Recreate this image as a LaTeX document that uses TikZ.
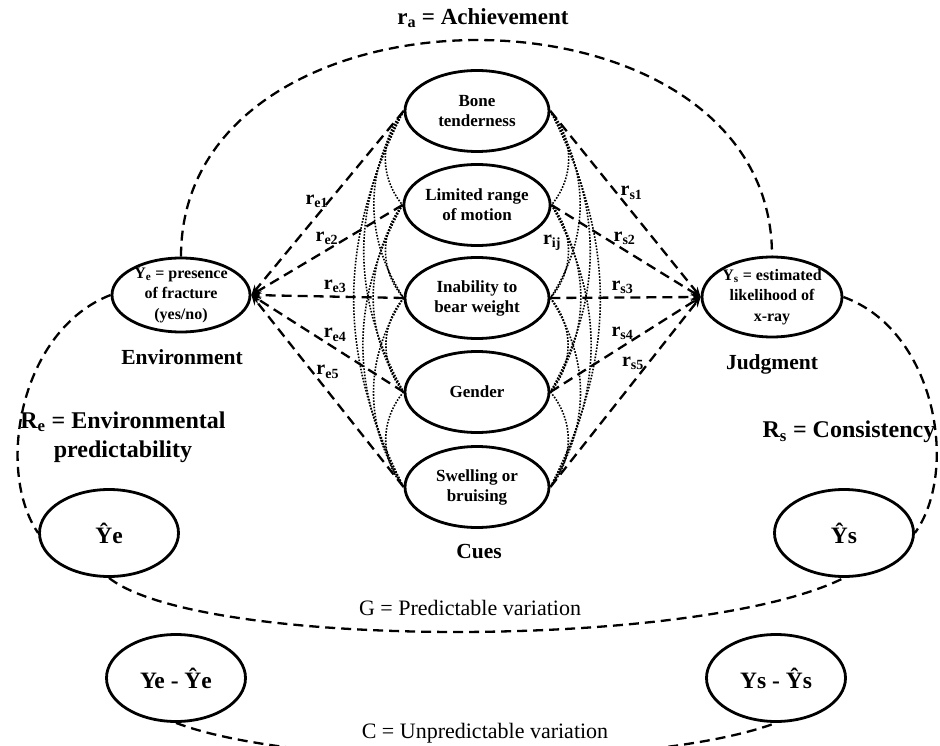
\documentclass[tikz,border=0pt]{standalone}
\usepackage{fontspec}
\setmainfont{Liberation Serif}
\usetikzlibrary{positioning,arrows.meta,shapes.geometric}

\begin{document}
\begin{tikzpicture}[x=1pt, y=-1pt,
  >={Stealth[length=10pt, width=8pt]},
  oval/.style={ellipse, draw, line width=2.8pt, inner sep=0pt, align=center,
    font=\bfseries\fontsize{17}{20}\selectfont},
  cue/.style={oval, minimum width=144pt, minimum height=81pt},
  resid/.style={oval, minimum width=139pt, minimum height=87pt,
    font=\bfseries\fontsize{23.5}{26}\selectfont},
  link/.style={line width=2.3pt, dash pattern=on 10pt off 6pt},
  corr/.style={line width=1.6pt, dash pattern=on 1.6pt off 1.5pt},
  lab/.style={font=\bfseries\fontsize{21.5}{24}\selectfont, inner sep=1pt},
  rlab/.style={font=\bfseries\fontsize{20}{22}\selectfont, inner sep=1pt},
  big/.style={font=\bfseries\fontsize{24}{29}\selectfont, inner sep=0pt, align=center},
  varlab/.style={font=\fontsize{22}{24}\selectfont, inner sep=1pt}]
\useasboundingbox (0,0) rectangle (940,746);
% title
\node[lab, font=\bfseries\fontsize{23}{25}\selectfont] (ra) at (483,18) {r\textsubscript{a} = Achievement};
% cues
\node[cue] (c1) at (477,111) {Bone\\tenderness};
\node[cue] (c2) at (477,205) {Limited range\\of motion};
\node[cue] (c3) at (477,298) {Inability to\\bear weight};
\node[cue] (c4) at (477,392) {Gender};
\node[cue] (c5) at (477,487) {Swelling or\\bruising};
\node[lab] (cues) at (479,552) {Cues};
% environment and judgment
\node[oval, minimum width=138pt, minimum height=74pt, inner ysep=-5pt,
  font=\bfseries\fontsize{16}{20.5}\selectfont] (ye) at (181,295)
  {Y\textsubscript{e} = presence\\of fracture\\(yes/no)};
\node[oval, minimum width=140pt, minimum height=80pt, inner ysep=-5pt, inner xsep=-2pt,
  font=\bfseries\fontsize{16}{20.5}\selectfont] (ys) at (772,297)
  {Y\textsubscript{s} = estimated\\likelihood of\\x-ray};
\node[lab] (env) at (182,357) {Environment};
\node[lab] (jud) at (772,364) {Judgment};
% predicted and residual parts
\node[resid] (yhe) at (109,533) {Ŷe};
\node[resid] (yhs) at (844,533) {Ŷs};
\node[resid] (ehe) at (176,678) {Ye - Ŷe};
\node[resid] (ehs) at (776,678) {Ys - Ŷs};
\node[big] (re) at (123,437) {R\textsubscript{e} = Environmental\\predictability};
\node[big] (rs) at (849,432) {R\textsubscript{s} = Consistency};
% cue intercorrelations
\foreach \a/\b/\k in {1/2/40, 2/3/40, 3/4/40, 4/5/40, 1/3/33, 2/4/33, 3/5/33,
                      1/4/29, 2/5/29, 1/5/27}{
  \draw[corr] (c\a.west) to[bend right=\k] (c\b.west);
  \draw[corr] (c\a.east) to[bend left=\k] (c\b.east);
}
\node[rlab] (rij) at (552,243) {r\textsubscript{ij}};
% ecological validities
\draw[link, ->] (c1.west) -- node[rlab, pos=0.57, above=6pt] (re1) {r\textsubscript{e1}} (ye.east);
\draw[link, ->] (c2.west) -- node[rlab, pos=0.5, above=3pt] (re2) {r\textsubscript{e2}} (ye.east);
\draw[link, ->] (c3.west) -- node[rlab, pos=0.45, above=2pt] (re3) {r\textsubscript{e3}} (ye.east);
\draw[link, ->] (c4.west) -- node[rlab, pos=0.45, above=5pt] (re4) {r\textsubscript{e4}} (ye.east);
\draw[link, ->] (c5.west) -- node[rlab, pos=0.6, right=2pt] (re5) {r\textsubscript{e5}} (ye.east);
% cue utilizations
\draw[link, ->] (c1.east) -- node[rlab, pos=0.44, right=2pt] (rs1) {r\textsubscript{s1}} (ys.west);
\draw[link, ->] (c2.east) -- node[rlab, pos=0.49, above=3pt] (rs2) {r\textsubscript{s2}} (ys.west);
\draw[link, ->] (c3.east) -- node[rlab, pos=0.48, above=2pt] (rs3) {r\textsubscript{s3}} (ys.west);
\draw[link, ->] (c4.east) -- node[rlab, pos=0.48, above=5pt] (rs4) {r\textsubscript{s4}} (ys.west);
\draw[link, ->] (c5.east) -- node[rlab, pos=0.65, left=2pt] (rs5) {r\textsubscript{s5}} (ys.west);
% lens arcs
\draw[link] (ye.north) to[out=90, in=90, looseness=1.25] (ys.north);
\draw[link] (ye.west) .. controls (20,330) and (-5,470) .. (yhe.west);
\draw[link] (ys.east) .. controls (935,330) and (960,470) .. (yhs.east);
\draw[link] (yhe.south) .. controls (200,650) and (700,650) .. (yhs.south);
\draw[link] (ehe.south) .. controls (300,770) and (650,770) .. (ehs.south);
\node[varlab] (g) at (470,608) {G = Predictable variation};
\node[varlab] (c) at (485,733) {C = Unpredictable variation};
\end{tikzpicture}
\end{document}
